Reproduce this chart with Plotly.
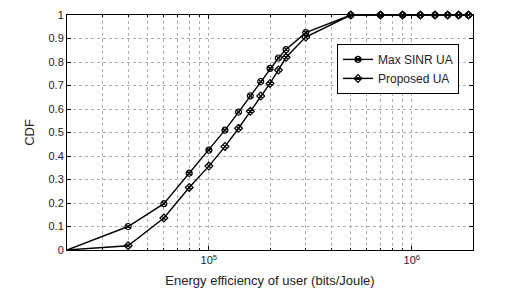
import plotly.graph_objects as go

ee = [2e4, 4e4, 6e4, 8e4, 1e5, 1.2e5, 1.4e5, 1.6e5, 1.8e5, 2e5, 2.2e5, 2.4e5, 3e5,
      5e5, 7e5, 9e5, 1.1e6, 1.3e6, 1.5e6, 1.7e6, 1.9e6]
cdf_max_sinr = [0, 0.10, 0.197, 0.327, 0.425, 0.51, 0.587, 0.656, 0.717, 0.773, 0.817, 0.853, 0.925,
                1, 1, 1, 1, 1, 1, 1, 1]
cdf_proposed = [0, 0.018, 0.136, 0.266, 0.357, 0.44, 0.518, 0.59, 0.655, 0.709, 0.766, 0.82, 0.906,
                1, 1, 1, 1, 1, 1, 1, 1]
y_ticks = [0, 0.1, 0.2, 0.3, 0.4, 0.5, 0.6, 0.7, 0.8, 0.9, 1]
y_tick_labels = ["0", "0.1", "0.2", "0.3", "0.4", "0.5", "0.6", "0.7", "0.8", "0.9", "1"]
x_ticks = [1e5, 1e6]
x_tick_labels = ["10<sup>5</sup>", "10<sup>6</sup>"]
x_minor = [3e4, 4e4, 5e4, 6e4, 7e4, 8e4, 9e4, 2e5, 3e5, 4e5, 5e5, 6e5, 7e5, 8e5, 9e5]

font = "Liberation Sans, Arial, sans-serif"
fig = go.Figure()
fig.add_trace(go.Scatter(x=ee, y=cdf_max_sinr, mode="lines+markers", name="Max SINR UA",
                         cliponaxis=False,
                         line=dict(color="black", width=1.4),
                         marker=dict(symbol="circle-x-open", size=6, color="black", line=dict(width=1.2))))
fig.add_trace(go.Scatter(x=ee, y=cdf_proposed, mode="lines+markers", name="Proposed UA",
                         cliponaxis=False,
                         line=dict(color="black", width=1.4),
                         marker=dict(symbol="diamond-x-open", size=6, color="black", line=dict(width=1.2))))

grid = dict(showgrid=True, gridcolor="#b0b0b0", griddash="dot", gridwidth=1)
fig.update_layout(
    width=526, height=296,
    margin=dict(l=67, r=53, t=9, b=46),
    paper_bgcolor="white", plot_bgcolor="white",
    font=dict(family=font, size=11, color="#222222"),
    showlegend=True,
    legend=dict(x=0.665, y=0.877, xanchor="left", yanchor="top",
                bgcolor="white", bordercolor="black", borderwidth=1,
                font=dict(size=12), tracegroupgap=0, itemwidth=30),
    xaxis=dict(type="log", range=[4.30103, 6.30103],
               tickmode="array", tickvals=x_ticks, ticktext=x_tick_labels,
               ticks="inside", ticklen=4, tickcolor="black",
               showline=True, linecolor="black", linewidth=1, mirror="ticks",
               zeroline=False,
               title=dict(text="Energy efficiency of user (bits/Joule)", font=dict(size=13), standoff=10),
               minor=dict(tickmode="array", tickvals=x_minor, ticks="inside", ticklen=2,
                          tickcolor="black", showgrid=True, gridcolor="#b0b0b0", griddash="dot"),
               **grid),
    yaxis=dict(range=[0, 1], tickmode="array", tickvals=y_ticks, ticktext=y_tick_labels,
               ticks="inside", ticklen=4, tickcolor="black",
               showline=True, linecolor="black", linewidth=1, mirror="ticks",
               zeroline=False,
               title=dict(text="CDF", font=dict(size=13), standoff=10),
               **grid),
)
fig.write_html("out.html", config={"displayModeBar": False},
               post_script="document.body.style.margin='0';")
